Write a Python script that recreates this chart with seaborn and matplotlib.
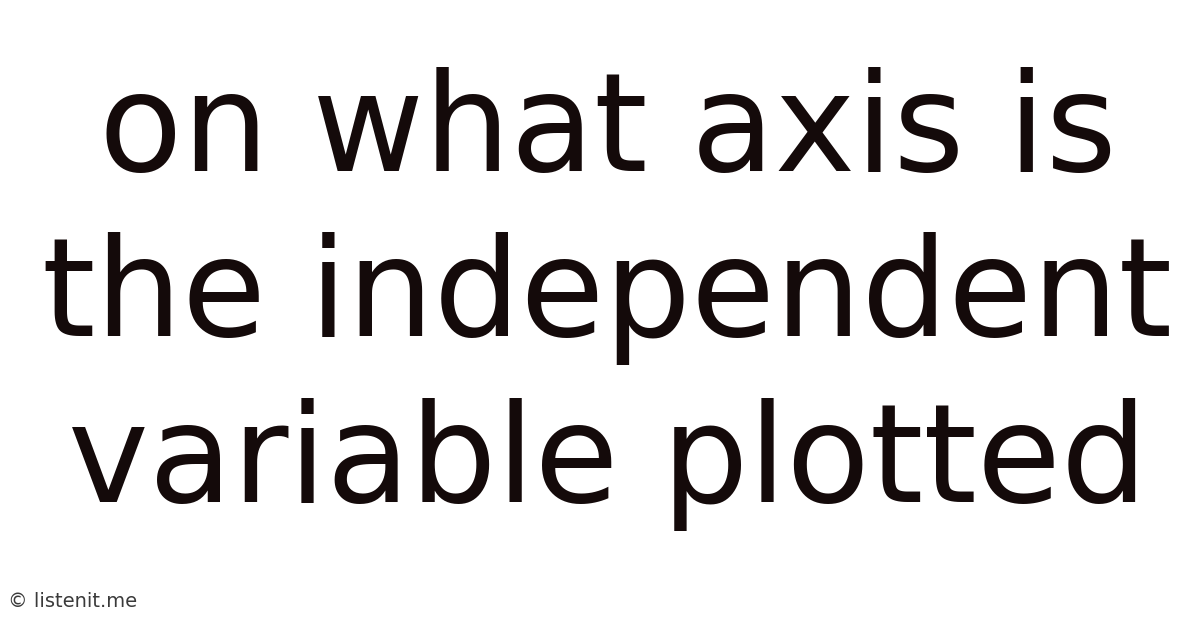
import matplotlib
matplotlib.use("Agg")
import matplotlib.pyplot as plt
import seaborn as sns

lines = ["on what axis is", "the independent", "variable plotted"]
baselines_px = [171, 336, 502]
footer = "© listenit.me"

sns.set_theme(style="white")
plt.rcParams['font.family'] = ['DejaVu Sans']

W, H = 1200, 628
fig = plt.figure(figsize=(W / 100, H / 100), dpi=100)
fig.patch.set_facecolor("white")
ax = fig.add_axes([0, 0, 1, 1])
ax.set_axis_off()

for txt, by in zip(lines, baselines_px):
    fig.text(607.5 / W, 1 - by / H, txt, ha="center", va="baseline",
             fontsize=98.3, color="#140a0a")

fig.text(8 / W, 1 - 607 / H, footer, ha="left", va="baseline",
         fontsize=14, color="#3a3a3a")

fig.savefig("out.png", dpi=100, facecolor="white")
